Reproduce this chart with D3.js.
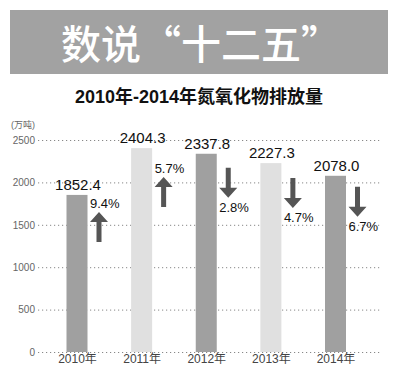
<!DOCTYPE html>
<html>
<head>
<meta charset="utf-8">
<script src="https://cdn.jsdelivr.net/npm/d3@7"></script>
<style>
  body { margin: 0; background: #fff; }
  svg { display: block; font-family: "Liberation Sans", Arial, "Noto Sans CJK SC", sans-serif; }
</style>
</head>
<body>
<div id="chart"></div>
<script>
// data
var years = ["2010年", "2011年", "2012年", "2013年", "2014年"];
var emissions = [1852.4, 2404.3, 2337.8, 2227.3, 2078.0];
var changes = [9.4, 5.7, -2.8, -4.7, -6.7];
var yTicks = [0, 500, 1000, 1500, 2000, 2500];

// layout
var svgWidth = 399, svgHeight = 372;
var barWidth = 21;
var arrowDy = [17, 29, 14, 15, 11]; // arrow top below bar top
var arrowLen = 30;

var svg = d3.select("#chart")
  .append("svg")
  .attr("width", svgWidth)
  .attr("height", svgHeight);

// banner
svg.append("rect")
  .attr("x", 10).attr("y", 10)
  .attr("width", 378).attr("height", 64)
  .attr("fill", "#a2a2a2");

svg.append("text")
  .attr("x", 201).attr("y", 59)
  .attr("text-anchor", "middle")
  .attr("fill", "#fff")
  .attr("font-family", "Noto Sans CJK SC")
  .attr("font-weight", 500)
  .attr("font-size", "40px")
  .text("数说“十二五”");

// title
svg.append("text")
  .attr("x", 199).attr("y", 103)
  .attr("text-anchor", "middle")
  .attr("fill", "#111")
  .attr("font-weight", 700)
  .attr("font-size", "18px")
  .text("2010年-2014年氮氧化物排放量");

svg.append("text")
  .attr("x", 11).attr("y", 128)
  .attr("fill", "#666")
  .attr("font-size", "9px")
  .text("(万吨)");

// scales
var y = d3.scaleLinear().domain([0, 2500]).range([352, 140]);
var x = d3.scalePoint().domain(years).range([77, 335.5]);

// y axis with dotted grid
var yAxis = svg.append("g")
  .attr("transform", "translate(38,0)")
  .call(d3.axisLeft(y).tickValues(yTicks).tickFormat(d3.format("d")).tickSize(-342).tickPadding(3));
yAxis.select(".domain").remove();
yAxis.selectAll(".tick line")
  .attr("stroke", "#888")
  .attr("stroke-dasharray", "1.2,2.8");
yAxis.selectAll(".tick text")
  .attr("fill", "#666")
  .attr("font-size", "10px")
  .attr("font-family", "Liberation Sans, Arial, sans-serif");

// x axis
var xAxis = svg.append("g")
  .attr("transform", "translate(0,352)")
  .call(d3.axisBottom(x).tickSize(0).tickPadding(2));
xAxis.select(".domain").remove();
xAxis.selectAll(".tick text")
  .attr("fill", "#444")
  .attr("font-size", "12px")
  .attr("font-family", "Liberation Sans, Arial, Noto Sans CJK SC, sans-serif");

// bars
svg.selectAll(".bar")
  .data(emissions)
  .enter()
  .append("rect")
  .attr("class", "bar")
  .attr("x", (d, i) => x(years[i]) - barWidth / 2)
  .attr("y", d => y(d))
  .attr("width", barWidth)
  .attr("height", d => y(0) - y(d))
  .attr("fill", (d, i) => i % 2 ? "#e0e0e0" : "#a0a0a0");

// value labels
svg.selectAll(".val")
  .data(emissions)
  .enter()
  .append("text")
  .attr("class", "val")
  .attr("x", (d, i) => x(years[i]) + 1)
  .attr("y", d => y(d) - 5)
  .attr("text-anchor", "middle")
  .attr("fill", "#111")
  .attr("font-size", "15px")
  .text(d => d.toFixed(1));

// arrows + percentages
var arrows = svg.selectAll(".chg")
  .data(changes)
  .enter()
  .append("g")
  .attr("class", "chg")
  .attr("transform", (d, i) => `translate(${x(years[i]) + 22},${y(emissions[i]) + arrowDy[i]})`);

arrows.append("path")
  .attr("fill", "#555")
  .attr("d", function(d) {
    if (d > 0) {
      return "M0,0 L9,10 L2.5,10 L2.5," + arrowLen + " L-2.5," + arrowLen + " L-2.5,10 L-9,10 Z";
    }
    var h = arrowLen - 10;
    return "M-2.5,0 L2.5,0 L2.5," + h + " L9," + h + " L0," + arrowLen + " L-9," + h + " L-2.5," + h + " Z";
  });

arrows.append("text")
  .attr("x", -9)
  .attr("y", d => d > 0 ? -4 : arrowLen + 14)
  .attr("fill", "#111")
  .attr("font-size", "13px")
  .text(d => Math.abs(d).toFixed(1) + "%");
</script>
</body>
</html>
